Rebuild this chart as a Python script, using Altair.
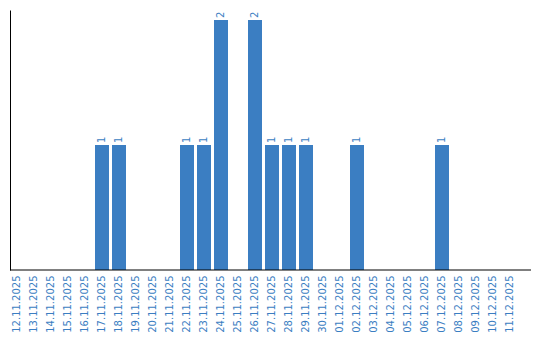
import altair as alt
import pandas as pd

dates = ["12.11.2025","13.11.2025","14.11.2025","15.11.2025","16.11.2025","17.11.2025",
         "18.11.2025","19.11.2025","20.11.2025","21.11.2025","22.11.2025","23.11.2025",
         "24.11.2025","25.11.2025","26.11.2025","27.11.2025","28.11.2025","29.11.2025",
         "30.11.2025","01.12.2025","02.12.2025","03.12.2025","04.12.2025","05.12.2025",
         "06.12.2025","07.12.2025","08.12.2025","09.12.2025","10.12.2025","11.12.2025"]
counts = [0,0,0,0,0,1,1,0,0,0,1,1,2,0,2,1,1,1,0,0,1,0,0,0,0,1,0,0,0,0]

df = pd.DataFrame({"date": dates, "count": counts})
df["label"] = [str(c) if c > 0 else "" for c in counts]

color = "#3b7ec2"
font = "DejaVu Sans"

x = alt.X("date:N", sort=dates, title=None,
          scale=alt.Scale(range=[0, 507], paddingInner=3/17, paddingOuter=0),
          axis=alt.Axis(labelAngle=-90, ticks=False, labelColor=color, labelFont=font,
                        labelFontSize=10, labelPadding=5, domain=False, grid=False))
y = alt.Y("count:Q", title=None, scale=alt.Scale(domain=[0, 2.08], nice=False),
          axis=alt.Axis(labels=False, ticks=False, grid=False, domainColor="black"))

bars = alt.Chart(df).mark_bar(color=color).encode(x=x, y=y)
text = alt.Chart(df).mark_text(angle=270, align="left", baseline="middle", dx=2,
                               color=color, font=font, fontSize=10).encode(
    x=alt.X("date:N", sort=dates), y="count:Q", text="label:N")
baseline = alt.Chart(pd.DataFrame({"v": [0]})).mark_rule(color="black", strokeWidth=1).encode(
    y="v:Q", x=alt.value(0), x2=alt.value(521))

chart = (bars + text + baseline).properties(
    width=521, height=260,
    autosize=alt.AutoSizeParams(type="none"),
    padding={"left": 10, "top": 10, "right": 9, "bottom": 70},
).configure_view(stroke=None)

chart.save("out.html", embed_options={"renderer": "svg", "actions": False})
